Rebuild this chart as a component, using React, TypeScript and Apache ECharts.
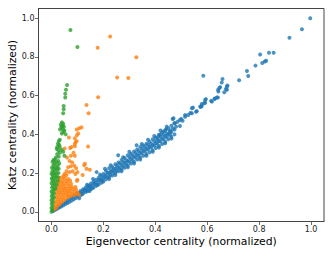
import React, { useEffect, useRef } from "react";
import * as echarts from "echarts";

const tickValues = [0, 0.2, 0.4, 0.6, 0.8, 1.0];
const xLabel = "Eigenvector centrality (normalized)";
const yLabel = "Katz centrality (normalized)";

const bluePoints: [number, number][] = [
  [0.006, 0.004], [0.006, 0.006], [0.014, 0.010], [0.014, 0.013], [0.022, 0.016], [0.022, 0.021],
  [0.030, 0.022], [0.030, 0.029], [0.038, 0.028], [0.038, 0.036], [0.046, 0.034], [0.046, 0.044],
  [0.054, 0.040], [0.054, 0.051], [0.062, 0.046], [0.062, 0.059], [0.070, 0.052], [0.070, 0.066],
  [0.078, 0.058], [0.078, 0.074], [0.086, 0.065], [0.086, 0.081], [0.094, 0.071], [0.094, 0.089],
  [0.102, 0.079], [0.102, 0.090], [0.102, 0.097], [0.112, 0.087], [0.112, 0.098], [0.112, 0.107],
  [0.122, 0.095], [0.122, 0.107], [0.122, 0.117], [0.132, 0.103], [0.132, 0.116], [0.132, 0.126],
  [0.142, 0.110], [0.142, 0.125], [0.142, 0.136], [0.152, 0.118], [0.152, 0.134], [0.152, 0.146],
  [0.162, 0.126], [0.162, 0.143], [0.162, 0.156], [0.172, 0.134], [0.172, 0.151], [0.172, 0.166],
  [0.182, 0.142], [0.182, 0.160], [0.182, 0.176], [0.192, 0.150], [0.192, 0.168], [0.192, 0.186],
  [0.200, 0.156], [0.200, 0.176], [0.200, 0.196], [0.174, 0.205], [0.206, 0.222], [0.160, 0.170],
  [0.210, 0.168], [0.210, 0.190], [0.210, 0.212], [0.222, 0.180], [0.222, 0.200], [0.222, 0.225],
  [0.234, 0.188], [0.234, 0.212], [0.234, 0.232], [0.246, 0.200], [0.246, 0.222], [0.246, 0.246],
  [0.258, 0.210], [0.258, 0.230], [0.258, 0.255], [0.257, 0.292], [0.270, 0.218], [0.270, 0.242],
  [0.270, 0.268], [0.282, 0.228], [0.282, 0.252], [0.282, 0.278], [0.294, 0.238], [0.294, 0.262],
  [0.294, 0.292], [0.306, 0.250], [0.306, 0.274], [0.306, 0.300], [0.318, 0.258], [0.318, 0.284],
  [0.318, 0.312], [0.330, 0.270], [0.330, 0.295], [0.330, 0.322], [0.328, 0.344], [0.342, 0.280],
  [0.342, 0.305], [0.342, 0.335], [0.354, 0.290], [0.354, 0.316], [0.354, 0.342], [0.366, 0.298],
  [0.366, 0.326], [0.366, 0.352], [0.378, 0.308], [0.378, 0.335], [0.378, 0.362], [0.390, 0.318],
  [0.390, 0.345], [0.390, 0.375], [0.402, 0.330], [0.402, 0.356], [0.402, 0.384], [0.414, 0.340],
  [0.414, 0.366], [0.414, 0.398], [0.426, 0.350], [0.426, 0.378], [0.426, 0.408], [0.438, 0.362],
  [0.438, 0.390], [0.438, 0.420], [0.450, 0.375], [0.450, 0.400], [0.450, 0.432], [0.462, 0.388],
  [0.462, 0.412], [0.462, 0.445], [0.474, 0.400], [0.474, 0.425], [0.474, 0.458],
  [0.216, 0.178], [0.228, 0.192], [0.240, 0.204], [0.252, 0.215], [0.264, 0.225], [0.276, 0.235],
  [0.288, 0.246], [0.300, 0.258], [0.312, 0.268], [0.324, 0.280], [0.336, 0.290], [0.348, 0.302],
  [0.360, 0.312], [0.372, 0.322], [0.384, 0.332], [0.396, 0.342], [0.408, 0.352], [0.420, 0.364],
  [0.432, 0.375], [0.444, 0.386], [0.456, 0.398], [0.216, 0.202], [0.240, 0.222], [0.264, 0.250],
  [0.288, 0.266], [0.312, 0.292], [0.336, 0.314], [0.360, 0.334], [0.384, 0.352], [0.408, 0.372],
  [0.432, 0.396], [0.456, 0.412], [0.117, 0.090], [0.137, 0.106], [0.157, 0.122], [0.177, 0.138],
  [0.197, 0.160], [0.127, 0.112], [0.147, 0.130], [0.167, 0.146], [0.187, 0.166],
  [0.205, 0.182], [0.228, 0.208], [0.252, 0.238], [0.276, 0.258], [0.300, 0.282], [0.324, 0.304],
  [0.348, 0.324], [0.372, 0.345], [0.396, 0.365], [0.420, 0.388], [0.444, 0.404], [0.468, 0.430],
  [0.222, 0.170], [0.246, 0.190], [0.270, 0.210], [0.294, 0.230], [0.318, 0.250], [0.342, 0.270],
  [0.366, 0.290], [0.390, 0.310], [0.414, 0.332], [0.438, 0.354], [0.462, 0.378],
  [0.228, 0.240], [0.276, 0.282], [0.300, 0.310], [0.348, 0.350], [0.372, 0.372], [0.396, 0.392],
  [0.444, 0.440], [0.420, 0.420], [0.187, 0.192], [0.137, 0.140], [0.107, 0.070], [0.147, 0.108],
  [0.431, 0.413], [0.441, 0.425], [0.457, 0.420], [0.418, 0.398], [0.410, 0.385],
  [0.470, 0.483], [0.467, 0.479], [0.475, 0.457], [0.486, 0.465], [0.495, 0.474], [0.495, 0.443],
  [0.480, 0.440], [0.500, 0.480], [0.505, 0.470], [0.515, 0.491], [0.515, 0.500], [0.527, 0.500],
  [0.535, 0.510], [0.541, 0.509], [0.541, 0.535], [0.545, 0.538], [0.557, 0.517], [0.560, 0.520],
  [0.573, 0.543], [0.576, 0.543], [0.579, 0.547], [0.579, 0.557], [0.588, 0.561], [0.592, 0.563],
  [0.592, 0.578], [0.595, 0.582], [0.615, 0.573], [0.618, 0.569], [0.628, 0.582], [0.629, 0.585],
  [0.637, 0.590], [0.641, 0.590], [0.642, 0.630], [0.643, 0.621], [0.647, 0.639], [0.650, 0.644],
  [0.656, 0.668], [0.659, 0.686], [0.666, 0.618], [0.672, 0.634], [0.676, 0.647], [0.678, 0.652],
  [0.676, 0.630], [0.585, 0.703], [0.723, 0.679], [0.753, 0.727], [0.758, 0.701], [0.786, 0.755],
  [0.804, 0.812], [0.812, 0.769], [0.822, 0.776], [0.827, 0.780], [0.838, 0.821], [0.856, 0.821],
  [0.917, 0.899], [0.965, 0.943], [0.997, 1.000],
];

const orangePoints: [number, number][] = [
  [0.226, 0.905], [0.178, 0.847], [0.327, 0.798], [0.253, 0.694], [0.296, 0.691], [0.180, 0.592],
  [0.135, 0.552], [0.143, 0.509], [0.141, 0.337],
  [0.116, 0.436], [0.107, 0.432], [0.097, 0.425], [0.103, 0.405], [0.098, 0.395], [0.090, 0.380],
  [0.097, 0.365], [0.090, 0.350], [0.093, 0.360], [0.067, 0.384], [0.072, 0.330], [0.051, 0.327],
  [0.090, 0.339], [0.077, 0.335],
  [0.085, 0.305], [0.075, 0.290], [0.090, 0.290], [0.060, 0.280], [0.070, 0.262], [0.080, 0.255],
  [0.129, 0.248], [0.126, 0.240], [0.148, 0.217], [0.135, 0.222], [0.064, 0.230], [0.075, 0.235],
  [0.088, 0.238], [0.095, 0.225], [0.058, 0.210], [0.070, 0.205], [0.082, 0.210], [0.100, 0.205],
  [0.092, 0.195], [0.050, 0.195], [0.058, 0.190], [0.100, 0.165], [0.120, 0.190],
  [0.010, 0.012], [0.018, 0.020], [0.012, 0.030], [0.025, 0.032], [0.018, 0.042], [0.032, 0.040],
  [0.015, 0.055], [0.028, 0.052], [0.040, 0.050], [0.022, 0.065], [0.035, 0.062], [0.048, 0.060],
  [0.018, 0.078], [0.030, 0.075], [0.042, 0.072], [0.055, 0.070], [0.065, 0.075], [0.024, 0.090],
  [0.036, 0.088], [0.048, 0.085], [0.060, 0.085], [0.072, 0.082], [0.085, 0.085], [0.020, 0.102],
  [0.032, 0.100], [0.044, 0.098], [0.056, 0.097], [0.068, 0.095], [0.080, 0.095], [0.095, 0.092],
  [0.106, 0.088], [0.026, 0.114], [0.038, 0.112], [0.050, 0.110], [0.062, 0.108], [0.074, 0.107],
  [0.088, 0.105], [0.100, 0.100], [0.022, 0.126], [0.034, 0.125], [0.046, 0.122], [0.058, 0.120],
  [0.070, 0.120], [0.082, 0.118], [0.095, 0.115], [0.028, 0.138], [0.040, 0.136], [0.052, 0.134],
  [0.066, 0.133], [0.078, 0.130], [0.092, 0.128], [0.025, 0.150], [0.036, 0.150], [0.048, 0.148],
  [0.062, 0.146], [0.075, 0.145], [0.032, 0.162], [0.044, 0.160], [0.058, 0.158], [0.072, 0.160],
  [0.098, 0.160], [0.030, 0.175], [0.040, 0.178], [0.052, 0.172], [0.065, 0.170], [0.048, 0.185],
];

const greenPoints: [number, number][] = [
  [0.073, 0.939], [0.100, 0.851],
  [0.060, 0.655], [0.056, 0.630], [0.053, 0.610], [0.053, 0.590], [0.047, 0.547], [0.047, 0.530],
  [0.045, 0.509],
  [0.040, 0.462], [0.045, 0.455], [0.036, 0.450], [0.042, 0.445], [0.048, 0.440], [0.038, 0.435],
  [0.044, 0.428], [0.033, 0.425], [0.050, 0.420], [0.046, 0.412], [0.040, 0.405], [0.055, 0.400],
  [0.032, 0.372], [0.028, 0.365], [0.025, 0.352], [0.022, 0.335], [0.030, 0.345], [0.020, 0.325],
  [0.026, 0.318], [0.039, 0.320], [0.045, 0.310], [0.032, 0.335], [0.050, 0.290],
  [0.000, 0.000], [0.003, 0.010], [0.000, 0.020], [0.004, 0.030], [0.001, 0.042], [0.006, 0.050],
  [0.000, 0.060], [0.005, 0.068], [0.009, 0.075], [0.001, 0.080], [0.004, 0.092], [0.010, 0.095],
  [0.000, 0.105], [0.007, 0.110], [0.012, 0.118], [0.002, 0.125], [0.006, 0.135], [0.013, 0.140],
  [0.000, 0.148], [0.009, 0.152], [0.004, 0.162], [0.015, 0.160], [0.001, 0.172], [0.010, 0.175],
  [0.018, 0.178], [0.005, 0.185], [0.013, 0.190], [0.000, 0.196], [0.008, 0.200], [0.020, 0.198],
  [0.003, 0.210], [0.015, 0.212], [0.010, 0.222], [0.022, 0.220], [0.002, 0.228], [0.016, 0.232],
  [0.007, 0.240], [0.024, 0.238], [0.012, 0.250], [0.019, 0.256], [0.004, 0.258], [0.026, 0.262],
  [0.013, 0.270], [0.017, 0.280], [0.028, 0.285], [0.022, 0.298], [0.032, 0.305],
  [0.025, 0.180], [0.027, 0.200], [0.028, 0.222], [0.024, 0.160], [0.020, 0.140], [0.016, 0.120],
  [0.008, 0.268], [0.030, 0.250],
];

const FONT = "DejaVu Sans";
const AXIS_COLOR = "#444";

export default function App() {
  const ref = useRef<HTMLDivElement>(null);
  useEffect(() => {
    if (!ref.current) return;
    const chart = echarts.init(ref.current, null, { renderer: "svg" });
    const axisCommon = {
      type: "value" as const,
      min: -0.05,
      max: 1.05,
      nameLocation: "middle" as const,
      nameMoveOverlap: false,
      nameTextStyle: { fontFamily: FONT, fontSize: 10.8, color: "#000" },
      axisLine: { show: true, onZero: false, lineStyle: { color: AXIS_COLOR, width: 1 } },
      axisTick: { show: true, inside: false, length: 3.5, customValues: tickValues, lineStyle: { color: AXIS_COLOR, width: 0.8 } },
      axisLabel: {
        customValues: tickValues,
        fontFamily: FONT,
        fontSize: 8,
        color: "#222",
        margin: 4,
        formatter: (v: number) => v.toFixed(1),
      },
      splitLine: { show: false },
    };
    chart.setOption({
      animation: false,
      backgroundColor: "#fff",
      grid: {
        left: 38.5,
        right: 8,
        top: 8.5,
        bottom: 34.5,
        outerBoundsMode: "none",
        containLabel: false,
        show: true,
        borderColor: AXIS_COLOR,
        borderWidth: 1,
        backgroundColor: "transparent",
      },
      xAxis: { ...axisCommon, name: xLabel, nameGap: 14.5 },
      yAxis: { ...axisCommon, name: yLabel, nameGap: 21 },
      series: [
        { type: "scatter", data: bluePoints, symbolSize: 4, itemStyle: { color: "#1f77b4" } },
        { type: "scatter", data: orangePoints, symbolSize: 4, itemStyle: { color: "#ff7f0e" } },
        { type: "scatter", data: greenPoints, symbolSize: 4, itemStyle: { color: "#2ca02c" } },
      ],
    });
    return () => chart.dispose();
  }, []);
  return <div ref={ref} style={{ width: 332, height: 256, position: "fixed", left: 0, top: 0 }} />;
}
